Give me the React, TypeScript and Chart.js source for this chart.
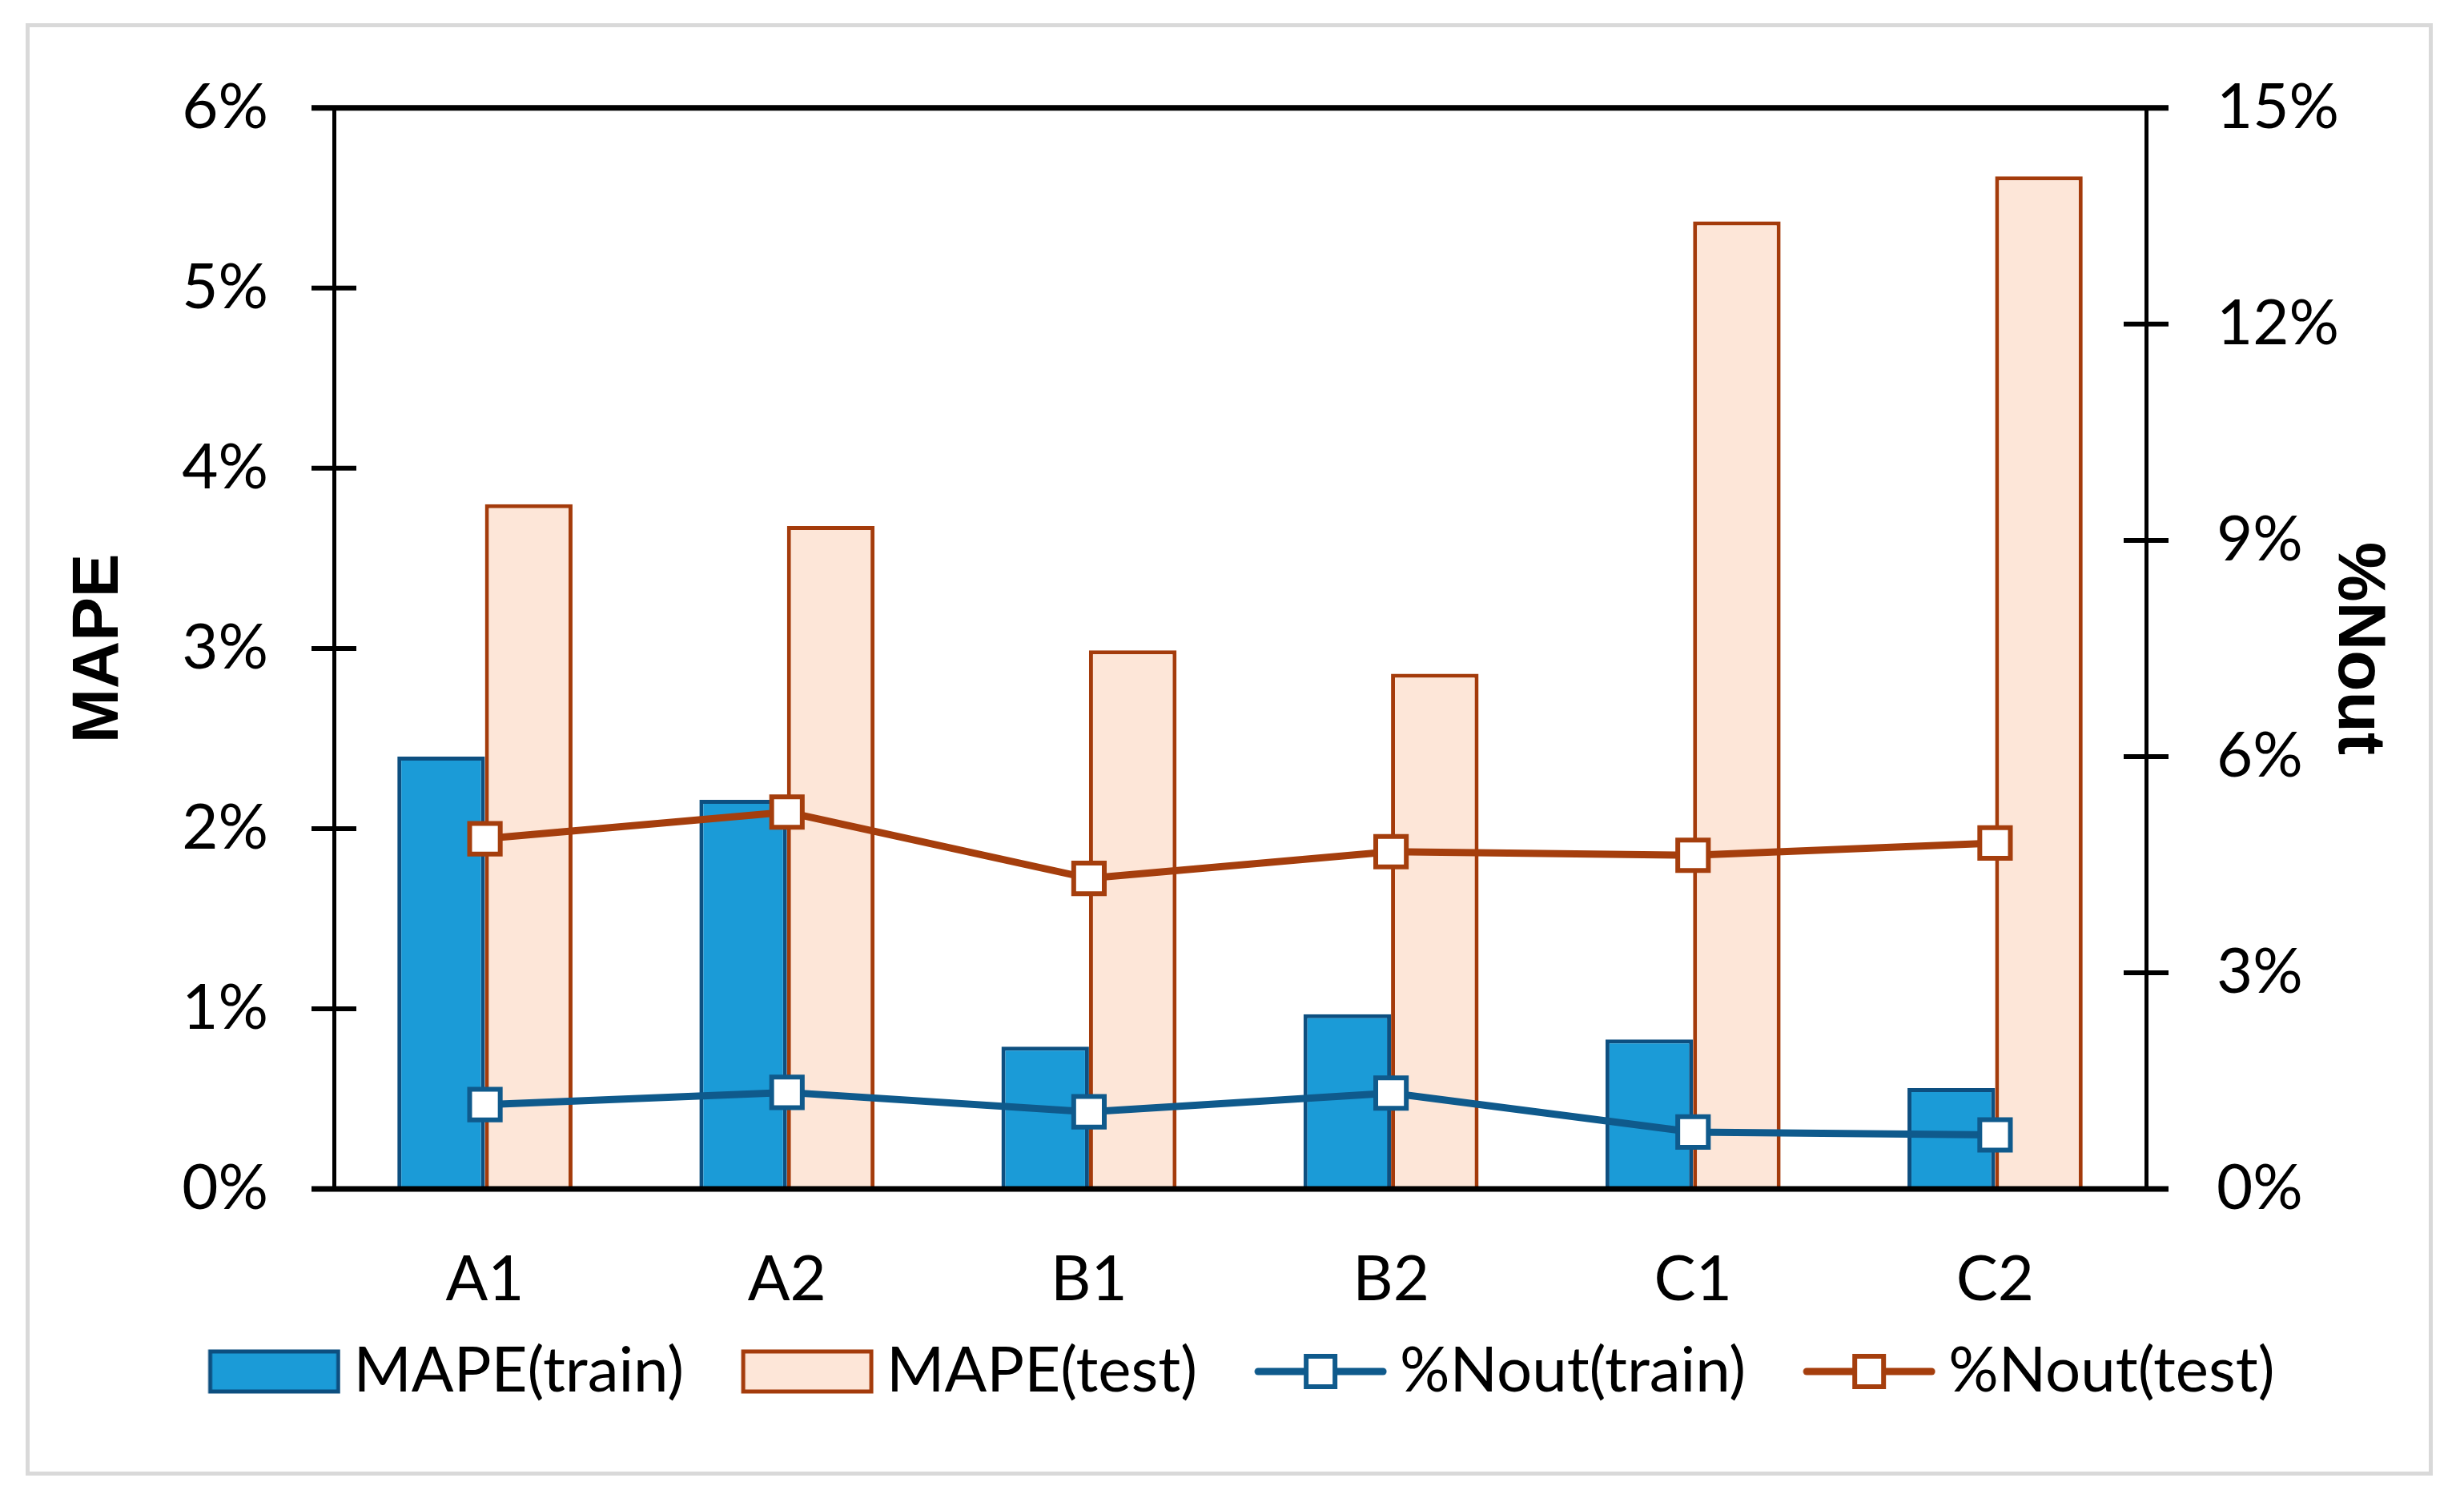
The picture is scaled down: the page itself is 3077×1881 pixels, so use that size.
import React, { useEffect, useRef } from 'react';
import { Chart, registerables } from 'chart.js';

Chart.register(...registerables);

// ---------------- data ----------------
const categories = ['A1', 'A2', 'B1', 'B2', 'C1', 'C2'];
const mapeTrain = [2.40, 2.16, 0.79, 0.97, 0.83, 0.56];
const mapeTest = [3.80, 3.68, 2.99, 2.86, 5.37, 5.62];
const noutTrain = [1.17, 1.34, 1.07, 1.33, 0.79, 0.75];
const noutTest = [4.86, 5.23, 4.31, 4.68, 4.63, 4.80];
const seriesLabels = ['MAPE(train)', 'MAPE(test)', '%Nout(train)', '%Nout(test)'];
const leftAxis = { min: 0, max: 6, step: 1, title: 'MAPE' };
const rightAxis = { min: 0, max: 15, step: 3, title: '%Nout' };

// ---------------- style ----------------
const W = 3077;
const H = 1881;
const TRAIN_FILL = '#1b9bd7';
const TRAIN_EDGE = '#0d4f80';
const TEST_FILL = '#fde6d8';
const TEST_EDGE = '#a43b0b';
const BLUE_LINE = '#0f5a8c';
const ORANGE_LINE = '#a53e0d';
const FONT = 'Lato, "Open Sans", sans-serif';
const TITLE_FONT = '"Liberation Sans", Arial, sans-serif';

const PAD_L = 0;
const PAD_R = 29;
const PAD_T = 128;
const PLOT_L = 417;
const PLOT_R = 2680;
const PLOT_B = 1485;
const X_H = 170;
const TICK_FONT = 78;

// legend geometry
const LEG_FONT = 78;
const LEG_TEXT_Y = 1713;
const LEG_PAD = Math.round(LEG_TEXT_Y - (PLOT_B + X_H) - LEG_FONT / 2); // vertical + horizontal spacing
const LEG_VIS = 166; // visible icon width
const LEG_GAP_TEXT = 16; // icon -> text
const LEG_GAP_ITEM = 71; // text -> next icon
const LEG_A = LEG_GAP_ITEM - LEG_PAD; // blank before icon inside its slot
const LEG_BOX_W = LEG_A + LEG_VIS + LEG_GAP_TEXT - LEG_FONT / 2;
const LEG_CANVAS_W = Math.round(2 * (LEG_A + LEG_VIS) - LEG_BOX_W);
const LEG_CONTENT_X = LEG_CANVAS_W - LEG_VIS;
const LEG_CANVAS_H = 58;
const PAD_B = H - (PLOT_B + X_H + LEG_FONT + LEG_PAD + 10);
const TICK_HALF = 28;

function barIcon(fill: string, edge: string): HTMLCanvasElement {
  const c = document.createElement('canvas');
  c.width = LEG_CANVAS_W;
  c.height = LEG_CANVAS_H;
  const g = c.getContext('2d')!;
  const x0 = LEG_CONTENT_X + 3;
  const y0 = (LEG_CANVAS_H - 50) / 2;
  g.fillStyle = fill;
  g.fillRect(x0, y0, 160, 50);
  g.strokeStyle = edge;
  g.lineWidth = 5;
  g.strokeRect(x0, y0, 160, 50);
  return c;
}

function lineIcon(color: string): HTMLCanvasElement {
  const c = document.createElement('canvas');
  c.width = LEG_CANVAS_W;
  c.height = LEG_CANVAS_H;
  const g = c.getContext('2d')!;
  const cy = LEG_CANVAS_H / 2;
  const cx = LEG_CONTENT_X + LEG_VIS / 2;
  g.strokeStyle = color;
  g.lineWidth = 9;
  g.lineCap = 'round';
  g.beginPath();
  g.moveTo(LEG_CONTENT_X + 5, cy);
  g.lineTo(LEG_CONTENT_X + LEG_VIS - 5, cy);
  g.stroke();
  g.fillStyle = '#fff';
  g.fillRect(cx - 18, cy - 19, 36, 38);
  g.lineWidth = 6;
  g.lineCap = 'butt';
  g.strokeRect(cx - 18, cy - 19, 36, 38);
  return c;
}

const axisDecor = {
  id: 'axisDecor',
  afterDraw(chart: any) {
    const { ctx, chartArea, scales } = chart;
    const seg = (x1: number, y1: number, x2: number, y2: number) => {
      ctx.beginPath();
      ctx.moveTo(x1, y1);
      ctx.lineTo(x2, y2);
      ctx.stroke();
    };
    ctx.save();
    ctx.strokeStyle = '#000';
    ctx.lineCap = 'butt';
    ctx.lineWidth = 6;
    [
      [scales.y, chartArea.left],
      [scales.y1, chartArea.right],
    ].forEach(([s, ax]: any) => {
      s.ticks.forEach((t: any) => {
        if (t.value === s.min || t.value === s.max) return;
        const y = s.getPixelForValue(t.value);
        seg(ax - TICK_HALF, y, ax + TICK_HALF, y);
      });
    });
    ctx.lineWidth = 7;
    const yTop = scales.y.getPixelForValue(scales.y.max);
    const yBot = scales.y.getPixelForValue(scales.y.min);
    seg(chartArea.left - TICK_HALF, yTop, chartArea.right + TICK_HALF, yTop);
    seg(chartArea.left - TICK_HALF, yBot, chartArea.right + TICK_HALF, yBot);
    ctx.restore();
  },
};

export default function App() {
  const ref = useRef<HTMLCanvasElement | null>(null);

  useEffect(() => {
    let chart: Chart | null = null;
    let cancelled = false;
    const build = () => {
      if (cancelled || !ref.current) return;
      const icons = [
        barIcon(TRAIN_FILL, TRAIN_EDGE),
        barIcon(TEST_FILL, TEST_EDGE),
        lineIcon(BLUE_LINE),
        lineIcon(ORANGE_LINE),
      ];
      const tickFont = { family: FONT, size: TICK_FONT };
      const lineDs = (label: string, data: number[], color: string, order: number) => ({
        type: 'line',
        label,
        data,
        yAxisID: 'y1',
        borderColor: color,
        borderWidth: 9,
        tension: 0,
        pointStyle: 'rect',
        pointRadius: 27,
        pointBackgroundColor: '#fff',
        pointBorderColor: color,
        pointBorderWidth: 6,
        order,
      });
      const barDs = (label: string, data: number[], fill: string, edge: string) => ({
        type: 'bar',
        label,
        data,
        yAxisID: 'y',
        backgroundColor: fill,
        borderColor: edge,
        borderWidth: 5,
        categoryPercentage: 0.58,
        barPercentage: 1,
        order: 2,
      });
      chart = new Chart(ref.current, {
        data: {
          labels: categories,
          datasets: [
            barDs(seriesLabels[0], mapeTrain, TRAIN_FILL, TRAIN_EDGE),
            barDs(seriesLabels[1], mapeTest, TEST_FILL, TEST_EDGE),
            lineDs(seriesLabels[2], noutTrain, BLUE_LINE, 1),
            lineDs(seriesLabels[3], noutTest, ORANGE_LINE, 0),
          ],
        } as any,
        options: {
          responsive: false,
          animation: false,
          devicePixelRatio: 1,
          layout: { padding: { left: PAD_L, right: PAD_R, top: PAD_T, bottom: PAD_B } },
          plugins: {
            tooltip: { enabled: false },
            legend: {
              position: 'bottom',
              labels: {
                usePointStyle: true,
                pointStyleWidth: LEG_BOX_W,
                padding: LEG_PAD,
                color: '#000',
                font: { family: FONT, size: LEG_FONT },
                generateLabels: () =>
                  seriesLabels.map((text, i) => ({
                    text,
                    pointStyle: icons[i],
                    datasetIndex: i,
                    hidden: false,
                    fillStyle: 'rgba(0,0,0,0)',
                    strokeStyle: 'rgba(0,0,0,0)',
                    lineWidth: 0,
                    fontColor: '#000',
                  })) as any,
              },
            },
          },
          scales: {
            x: {
              type: 'category',
              offset: true,
              grid: { display: false, drawTicks: false },
              border: { display: false },
              ticks: { padding: 67, color: '#000', font: tickFont },
              afterFit: (s: any) => {
                s.height = X_H;
              },
            },
            y: {
              position: 'left',
              min: leftAxis.min,
              max: leftAxis.max,
              grid: { display: false, drawTicks: false },
              border: { display: true, color: '#000', width: 5 },
              ticks: {
                stepSize: leftAxis.step,
                padding: 82,
                color: '#000',
                font: tickFont,
                callback: (v: any) => v + '%',
              },
              title: {
                display: true,
                text: leftAxis.title,
                color: '#000',
                font: { family: TITLE_FONT, size: 82, weight: 'bold' },
                padding: { top: 75, bottom: 0 },
              },
              afterFit: (s: any) => {
                s.width = PLOT_L - PAD_L;
              },
            },
            y1: {
              position: 'right',
              min: rightAxis.min,
              max: rightAxis.max,
              grid: { display: false, drawTicks: false },
              border: { display: true, color: '#000', width: 5 },
              ticks: {
                stepSize: rightAxis.step,
                padding: 88,
                color: '#000',
                font: tickFont,
                callback: (v: any) => v + '%',
              },
              title: {
                display: true,
                text: rightAxis.title,
                color: '#000',
                font: { family: TITLE_FONT, size: 84, weight: 'bold' },
                padding: { top: 53, bottom: 0 },
              },
              afterFit: (s: any) => {
                s.width = W - PAD_R - PLOT_R;
              },
            },
          },
        } as any,
        plugins: [axisDecor],
      });
    };
    const fonts: any = (document as any).fonts;
    if (fonts && fonts.load) {
      Promise.all([
        fonts.load(`78px Lato`),
        fonts.load(`bold 82px "Liberation Sans"`),
      ])
        .catch(() => null)
        .then(build);
    } else {
      build();
    }
    return () => {
      cancelled = true;
      if (chart) chart.destroy();
    };
  }, []);

  return (
    <div
      style={{
        position: 'absolute',
        left: 0,
        top: 0,
        width: W,
        height: H,
        background: '#fff',
        overflow: 'hidden',
      }}
    >
      <div
        style={{
          position: 'absolute',
          left: 32,
          top: 29,
          width: 3006,
          height: 1814,
          boxSizing: 'border-box',
          border: '5px solid #d9d9d9',
        }}
      />
      <canvas
        ref={ref}
        width={W}
        height={H}
        style={{ position: 'absolute', left: 0, top: 0, width: W, height: H }}
      />
    </div>
  );
}
